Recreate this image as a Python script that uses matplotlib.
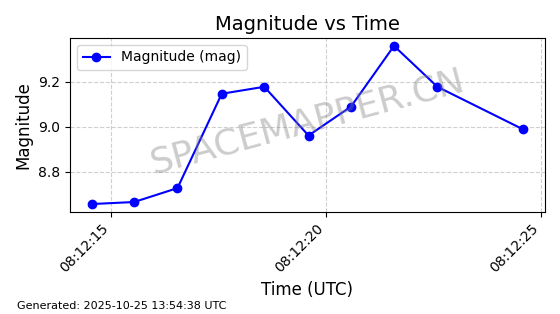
from datetime import datetime, timedelta
import matplotlib
matplotlib.use("Agg")
import matplotlib.pyplot as plt
import matplotlib.dates as mdates

# observation offsets (seconds after 08:12:00 UTC) and magnitudes
seconds = [14.54, 15.53, 16.54, 17.57, 18.56, 19.59, 20.58, 21.58, 22.59, 24.59]
magnitudes = [8.656, 8.665, 8.727, 9.147, 9.178, 8.961, 9.090, 9.360, 9.178, 8.988]

base = datetime(2025, 10, 25, 8, 12, 0)
times = [base + timedelta(seconds=s) for s in seconds]

fig = plt.figure(figsize=(5.6, 3.14), dpi=100)
ax = fig.add_axes([0.125, 0.325, 0.848, 0.554])

ax.plot(times, magnitudes, "-o", color="blue", linewidth=1.5, markersize=6,
        label="Magnitude (mag)")

ax.set_title("Magnitude vs Time", fontsize=14)
ax.set_xlabel("Time (UTC)", fontsize=12)
ax.set_ylabel("Magnitude", fontsize=12)
ax.grid(True, linestyle="--", alpha=0.6)
ax.legend(loc="upper left", fontsize=10)

ax.xaxis.set_major_locator(mdates.SecondLocator(bysecond=range(0, 60, 5)))
ax.xaxis.set_major_formatter(mdates.DateFormatter("%H:%M:%S"))
plt.setp(ax.get_xticklabels(), rotation=45, ha="right")

# watermark
ax.text(0.5, 0.52, "SPACEMAPPER.CN", transform=ax.transAxes, fontsize=26,
        color="gray", alpha=0.4, rotation=15, ha="center", va="center")

fig.text(0.03, 0.015, "Generated: 2025-10-25 13:54:38 UTC", fontsize=8)

fig.savefig("out.png", dpi=100)
